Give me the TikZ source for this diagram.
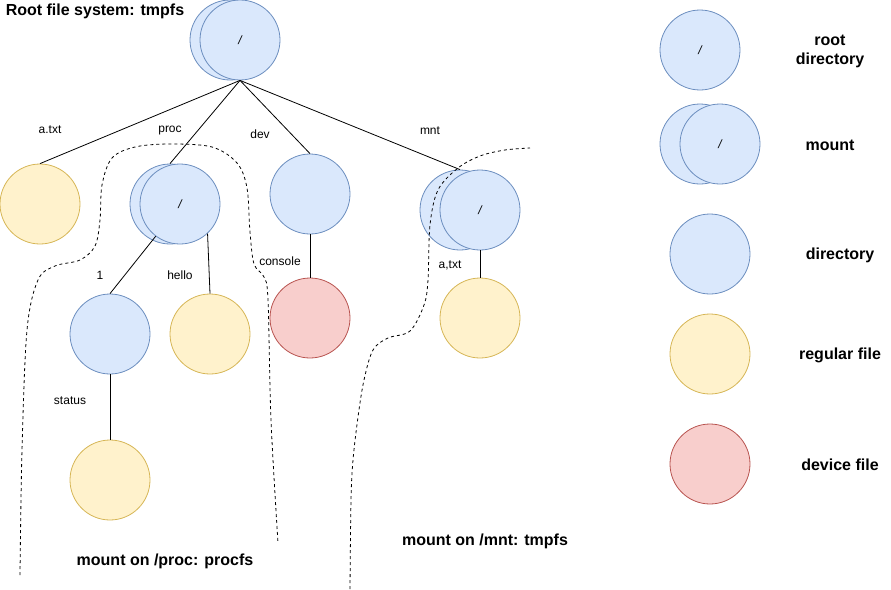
\documentclass[tikz,border=0pt]{standalone}
\usepackage{fontspec}
\setmainfont{Liberation Sans}
\begin{document}
\begin{tikzpicture}[x=1pt,y=-1pt,
  every node/.style={font=\fontsize{12}{14}\selectfont},
  circ/.style={circle,minimum size=80pt,inner sep=0pt,line width=0.8pt},
  dirc/.style={circ,fill=dirfill,draw=dirdraw},
  filec/.style={circ,fill=filefill,draw=filedraw},
  devfc/.style={circ,fill=devfill,draw=devdraw},
  edge/.style={draw=black,line width=0.8pt},
  lbl/.style={font=\fontsize{12}{14}\selectfont},
  title/.style={font=\fontsize{16}{19}\selectfont\bfseries,align=center},
  mountline/.style={draw=black,line width=0.8pt,dash pattern=on 3pt off 3pt},
  slash/.style={font=\fontsize{12}{14}\selectfont\itshape}
]
\definecolor{dirfill}{HTML}{DAE8FC}
\definecolor{dirdraw}{HTML}{6C8EBF}
\definecolor{filefill}{HTML}{FFF2CC}
\definecolor{filedraw}{HTML}{D6B656}
\definecolor{devfill}{HTML}{F8CECC}
\definecolor{devdraw}{HTML}{B85450}
\useasboundingbox (0,0) rectangle (891,589);

% root
\node[dirc] (rootA) at (230,40) {};
\node[dirc,slash] (rootB) at (240,40) {/};
% children
\node[filec] (atxt) at (40,204) {};
\node[dirc] (procA) at (170,204) {};
\node[dirc,slash] (procB) at (180,204) {/};
\node[dirc] (dev) at (310,194) {};
\node[dirc] (mntA) at (460,210) {};
\node[dirc,slash] (mntB) at (480,210) {/};
\node[dirc] (one) at (110,334) {};
\node[filec] (hello) at (210,334) {};
\node[devfc] (console) at (310,318) {};
\node[filec] (mtxt) at (480,318) {};
\node[filec] (status) at (110,480) {};

% edges
\draw[edge] (rootB.south) -- (atxt.north);
\draw[edge] (rootB.south) -- (procA.north);
\draw[edge] (rootB.south) -- (dev.north);
\draw[edge] (rootB.south) -- (mntA.north);
\draw[edge] (procB.233) -- (one.north);
\draw[edge] (procB.313) -- (hello.north);
\draw[edge] (dev.south) -- (console.north);
\draw[edge] (mntB.south) -- (mtxt.north);
\draw[edge] (one.south) -- (status.north);

% edge labels
\node[lbl] (latxt) at (50,130) {a.txt};
\node[lbl] (lproc) at (170,131) {proc};
\node[lbl] (ldev) at (260,134) {dev};
\node[lbl] (lmnt) at (430,131) {mnt};
\node[lbl] (lone) at (100,275) {1};
\node[lbl] (lhello) at (180,275) {hello};
\node[lbl] (lconsole) at (280,261) {console};
\node[lbl] (lmtxt) at (450,265) {a,txt};
\node[lbl] (lstatus) at (70,401) {status};

% dashed mount boundaries
\draw[mountline] plot[smooth,tension=0.55] coordinates {
  (20,575) (22,450) (27,330) (38,280) (55,266) (80,260) (95,246) (100,220)
  (102,185) (112,158) (135,147) (170,144) (212,147) (237,163) (247,188)
  (250,232) (254,264) (264,277) (268,300) (271,420) (278,543)};
\draw[mountline] plot[smooth,tension=0.55] coordinates {
  (350,589) (351,500) (353,460) (358,417) (364,380) (373,350) (388,338)
  (410,331) (424,305) (428,280) (430,225) (438,190) (458,168) (480,156)
  (505,150) (530,148)};

% titles
\node[title] (ttl) at (95,11) {Root file system: tmpfs};
\node[title] (tproc) at (165,561) {mount on /proc: procfs};
\node[title] (tmnt) at (485,541) {mount on /mnt: tmpfs};

% legend
\node[dirc,slash] (lgroot) at (700,50) {/};
\node[dirc] (lgmA) at (700,144) {};
\node[dirc,slash] (lgmB) at (720,144) {/};
\node[dirc] (lgdir) at (710,254) {};
\node[filec] (lgfile) at (710,354) {};
\node[devfc] (lgdev) at (710,464) {};
\node[title] (tlroot) at (830,51) {root\\[0pt]directory};
\node[title] (tlmount) at (830,145) {mount};
\node[title] (tldir) at (840,255) {directory};
\node[title] (tlfile) at (840,355) {regular file};
\node[title] (tldev) at (840,465) {device file};
\end{tikzpicture}
\end{document}
